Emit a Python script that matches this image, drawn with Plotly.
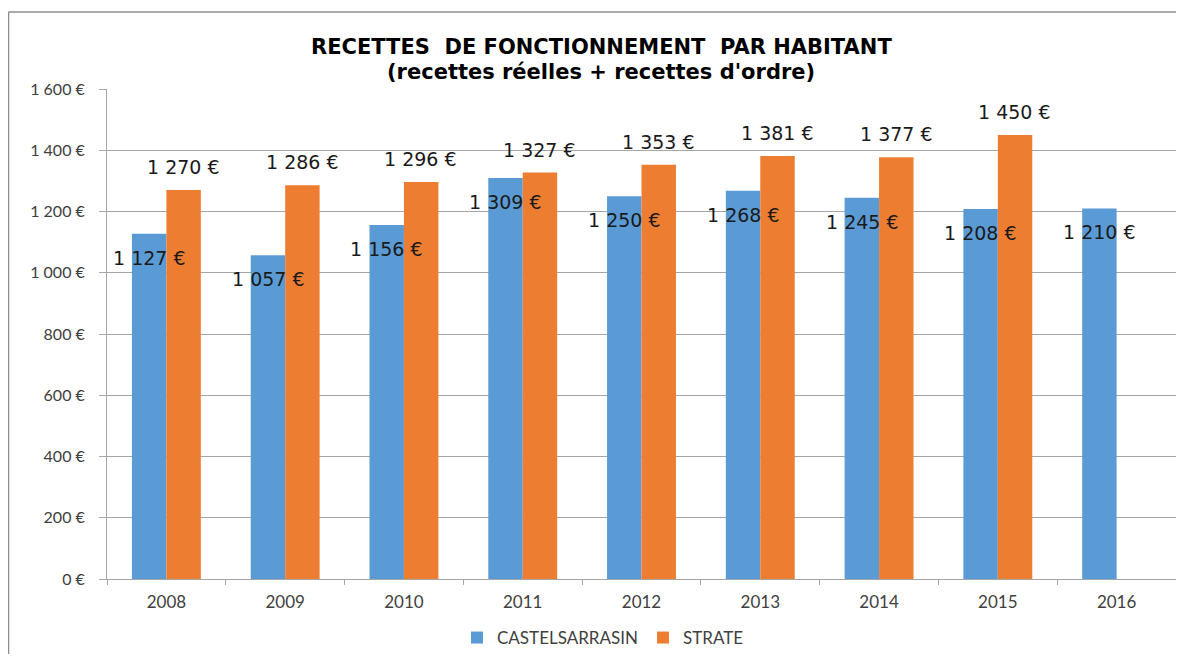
import plotly.graph_objects as go

years = ["2008", "2009", "2010", "2011", "2012", "2013", "2014", "2015", "2016"]
castelsarrasin = [1127, 1057, 1156, 1309, 1250, 1268, 1245, 1208, 1210]
strate = [1270, 1286, 1296, 1327, 1353, 1381, 1377, 1450, None]
y_tickvals = [0, 200, 400, 600, 800, 1000, 1200, 1400, 1600]
y_ticktext = ["0 €", "200 €", "400 €", "600 €", "800 €", "1 000 €", "1 200 €", "1 400 €", "1 600 €"]
title_line1 = "RECETTES  DE FONCTIONNEMENT  PAR HABITANT"
title_line2 = "(recettes réelles + recettes d'ordre)"

BLUE = "#5B9BD5"
ORANGE = "#ED7D31"
GRID = "#A6A6A6"
BORDER = "#8C8C8C"

OFF = 8  # page body margin
W, H = 1184 - 2 * OFF, 662 - 2 * OFF
ML, MT = 107 - OFF, 89 - OFF
MR = 0
MB = (OFF + H) - 579
PW, PH = W - ML - MR, H - MT - MB


def fmt(v):
    return f"{v:,}".replace(",", " ") + " €"


def py(page_y):
    return (H - MB - (page_y - OFF)) / PH


def px(page_x):
    return (page_x - OFF - ML) / PW


fig = go.Figure()
fig.add_trace(go.Bar(name="CASTELSARRASIN", x=years, y=castelsarrasin,
                     marker=dict(color=BLUE, line=dict(width=0))))
fig.add_trace(go.Bar(name="STRATE", x=years, y=strate,
                     marker=dict(color=ORANGE, line=dict(width=0))))

annotations = []
label_font = dict(family="DejaVu Sans", size=19, color="#1a1a1a")
for i, v in enumerate(castelsarrasin):
    annotations.append(dict(x=i, y=v, xref="x", yref="y", text=fmt(v), showarrow=False,
                            xshift=-17, yshift=-24, font=label_font,
                            xanchor="center", yanchor="middle"))
for i, v in enumerate(strate):
    if v is None:
        continue
    annotations.append(dict(x=i, y=v, xref="x", yref="y", text=fmt(v), showarrow=False,
                            xshift=17, yshift=23, font=label_font,
                            xanchor="center", yanchor="middle"))

title_font = dict(family="DejaVu Sans", size=21, color="#000000", weight="bold")
annotations.append(dict(x=px(601), y=py(47), xref="paper", yref="paper", text=title_line1,
                        showarrow=False, xanchor="center", yanchor="middle", font=title_font))
annotations.append(dict(x=px(601), y=py(72), xref="paper", yref="paper", text=title_line2,
                        showarrow=False, xanchor="center", yanchor="middle", font=title_font))

fig.update_layout(
    width=W, height=H,
    margin=dict(l=ML, r=MR, t=MT, b=MB, autoexpand=False),
    paper_bgcolor="white", plot_bgcolor="white",
    barmode="group", bargap=0.42, bargroupgap=0,
    font=dict(family="Lato", size=16, color="#404040"),
    showlegend=True,
    legend=dict(orientation="h", x=px(603), xanchor="center", y=py(638), yanchor="middle",
                font=dict(family="Lato", size=17, color="#404040"),
                traceorder="normal"),
    annotations=annotations,
    shapes=[
        dict(type="line", xref="paper", yref="paper",
             x0=px(8.5), x1=px(8.5), y0=py(700), y1=py(12),
             line=dict(color=BORDER, width=1.5), layer="below"),
        dict(type="line", xref="paper", yref="paper",
             x0=px(8.5), x1=px(1300), y0=py(12), y1=py(12),
             line=dict(color=BORDER, width=1.5), layer="below"),
    ],
)
fig.update_xaxes(
    type="category", range=[-0.5, len(years) - 0.5], showline=True, linecolor=GRID, linewidth=1,
    ticks="outside", tickson="boundaries", ticklen=5, tickcolor=GRID, ticklabelstandoff=8,
    tickfont=dict(family="Lato", size=17, color="#404040"), tickangle=0,
    showgrid=False, automargin=False,
)
fig.update_yaxes(
    range=[0, 1600], tickvals=y_tickvals, ticktext=y_ticktext,
    showline=True, linecolor=GRID, linewidth=1,
    ticks="outside", ticklen=7, tickcolor=GRID, ticklabelstandoff=11,
    showgrid=True, gridcolor=GRID, gridwidth=1, zeroline=False,
    tickfont=dict(family="Lato", size=16, color="#404040"), automargin=False,
)
fig.write_html("out.html")
